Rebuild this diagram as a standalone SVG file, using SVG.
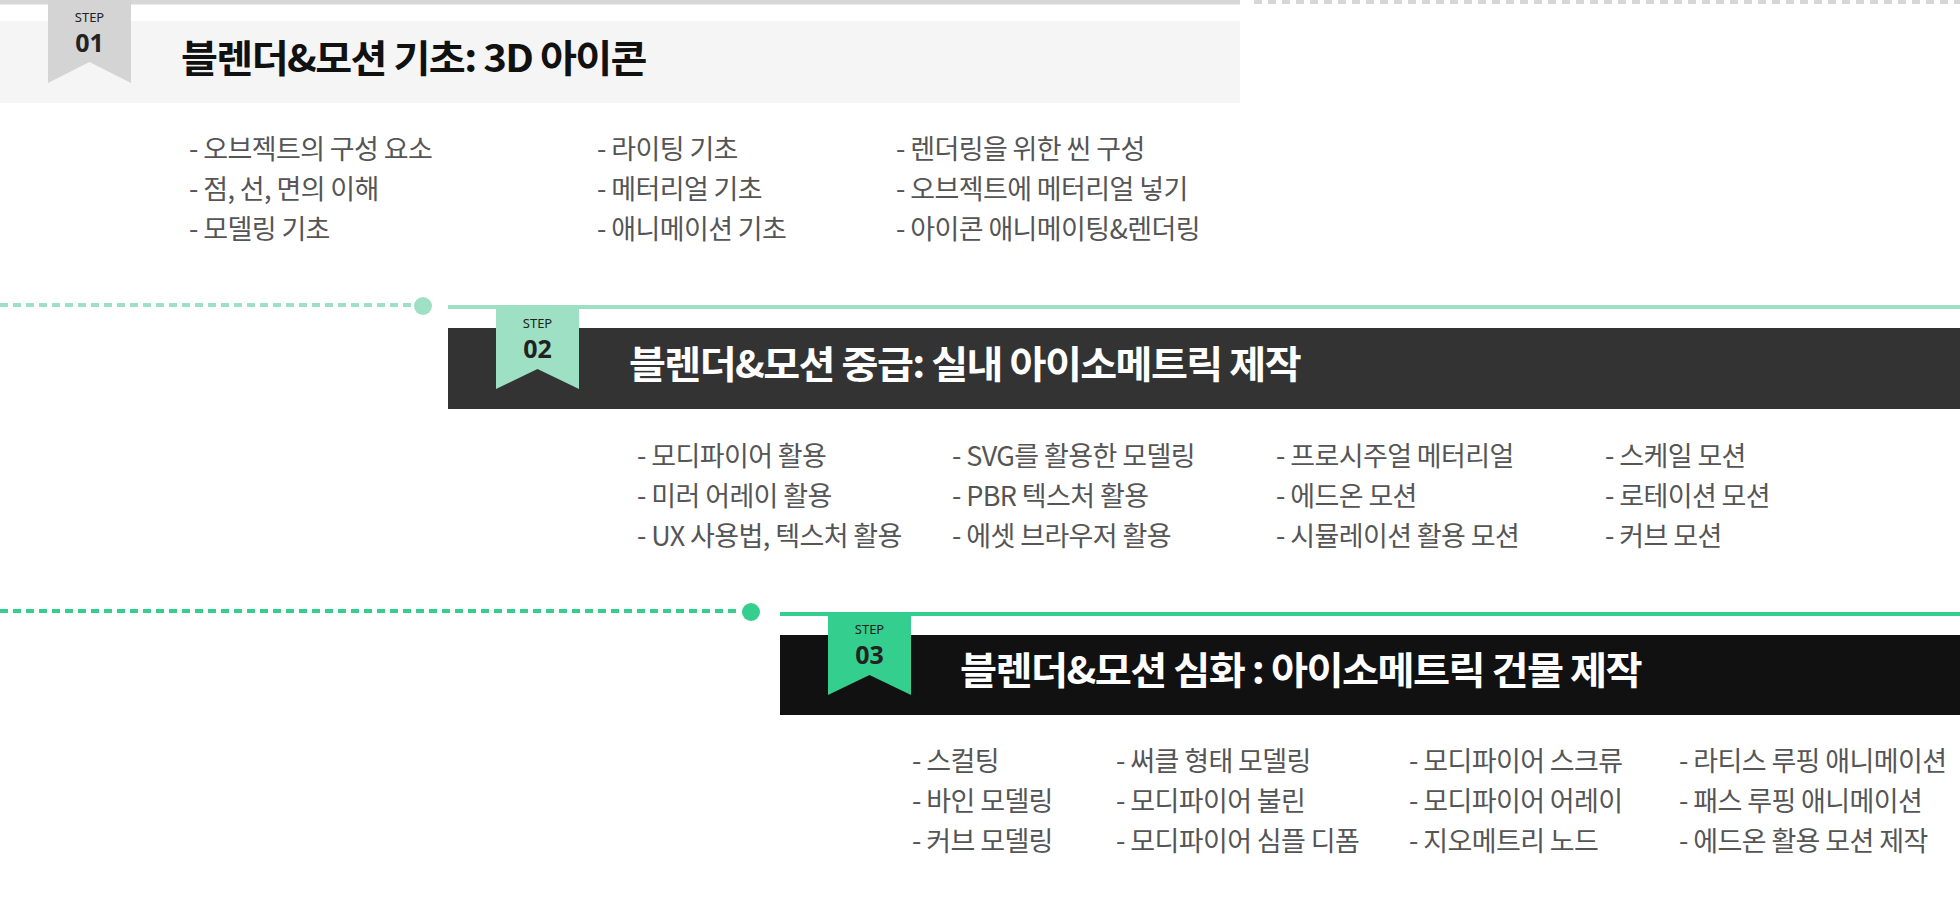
<svg xmlns="http://www.w3.org/2000/svg" width="1960" height="904" viewBox="0 0 1960 904">
<style>
.t{font-family:"Noto Sans CJK KR","Noto Sans",sans-serif;font-weight:bold;font-size:38px;letter-spacing:-1.5px}
.i{font-family:"Noto Sans CJK KR","Noto Sans",sans-serif;font-size:27px;fill:#555;letter-spacing:-0.6px}
.s{font-family:"Noto Sans","Noto Sans CJK KR",sans-serif;font-size:13px;text-anchor:middle;fill:#222}
.n{font-family:"Noto Sans","Noto Sans CJK KR",sans-serif;font-size:25px;font-weight:bold;text-anchor:middle;fill:#222}
</style>
<rect width="1960" height="904" fill="#fff"/>
<g id="connectors">
<line x1="0" y1="2" x2="1240" y2="2" stroke="#d6d6d6" stroke-width="5"/>
<line x1="1254" y1="2" x2="1960" y2="2" stroke="#d6d6d6" stroke-width="4" stroke-dasharray="8,6"/>
<line x1="0" y1="305" x2="412" y2="305" stroke="#9ee0c3" stroke-width="4" stroke-dasharray="8,5"/>
<circle cx="423" cy="306" r="9" fill="#9ee0c3"/>
<line x1="448" y1="307" x2="1960" y2="307" stroke="#9ee0c3" stroke-width="4"/>
<line x1="0" y1="611" x2="740" y2="611" stroke="#34cf8e" stroke-width="4" stroke-dasharray="8,5"/>
<circle cx="751" cy="612" r="9" fill="#34cf8e"/>
<line x1="780" y1="614" x2="1960" y2="614" stroke="#34cf8e" stroke-width="4"/>
</g>
<g id="step01">
<rect x="0" y="21" width="1240" height="82" fill="#f5f5f5"/>
<polygon points="48,0 131,0 131,83 89.5,62 48,83" fill="#d4d4d4"/>
<text class="s" x="89.5" y="22">STEP</text>
<text class="n" x="89.5" y="52">01</text>
<text class="t" x="181" y="72" fill="#111" textLength="465" lengthAdjust="spacingAndGlyphs">블렌더&amp;모션 기초: 3D 아이콘</text>
<text class="i" x="189" y="159">- 오브젝트의 구성 요소</text>
<text class="i" x="189" y="199">- 점, 선, 면의 이해</text>
<text class="i" x="189" y="239">- 모델링 기초</text>
<text class="i" x="597" y="159">- 라이팅 기초</text>
<text class="i" x="597" y="199">- 메터리얼 기초</text>
<text class="i" x="597" y="239">- 애니메이션 기초</text>
<text class="i" x="896" y="159">- 렌더링을 위한 씬 구성</text>
<text class="i" x="896" y="199">- 오브젝트에 메터리얼 넣기</text>
<text class="i" x="896" y="239">- 아이콘 애니메이팅&amp;렌더링</text>
</g>
<g id="step02">
<rect x="448" y="328" width="1512" height="81" fill="#333"/>
<polygon points="496,306 579,306 579,389 537.5,369 496,389" fill="#9ee0c3"/>
<text class="s" x="537.5" y="328">STEP</text>
<text class="n" x="537.5" y="358">02</text>
<text class="t" x="629" y="378" fill="#fff" textLength="671" lengthAdjust="spacingAndGlyphs">블렌더&amp;모션 중급: 실내 아이소메트릭 제작</text>
<text class="i" x="637" y="466">- 모디파이어 활용</text>
<text class="i" x="637" y="506">- 미러 어레이 활용</text>
<text class="i" x="637" y="546">- UX 사용법, 텍스처 활용</text>
<text class="i" x="952" y="466">- SVG를 활용한 모델링</text>
<text class="i" x="952" y="506">- PBR 텍스처 활용</text>
<text class="i" x="952" y="546">- 에셋 브라우저 활용</text>
<text class="i" x="1276" y="466">- 프로시주얼 메터리얼</text>
<text class="i" x="1276" y="506">- 에드온 모션</text>
<text class="i" x="1276" y="546">- 시뮬레이션 활용 모션</text>
<text class="i" x="1605" y="466">- 스케일 모션</text>
<text class="i" x="1605" y="506">- 로테이션 모션</text>
<text class="i" x="1605" y="546">- 커브 모션</text>
</g>
<g id="step03">
<rect x="780" y="635" width="1180" height="80" fill="#111"/>
<polygon points="828,614 911,614 911,695 869.5,675 828,695" fill="#34cf8e"/>
<text class="s" x="869.5" y="634">STEP</text>
<text class="n" x="869.5" y="664">03</text>
<text class="t" x="960" y="684" fill="#fff" textLength="681" lengthAdjust="spacingAndGlyphs">블렌더&amp;모션 심화 : 아이소메트릭 건물 제작</text>
<text class="i" x="912" y="771">- 스컬팅</text>
<text class="i" x="912" y="811">- 바인 모델링</text>
<text class="i" x="912" y="851">- 커브 모델링</text>
<text class="i" x="1116" y="771">- 써클 형태 모델링</text>
<text class="i" x="1116" y="811">- 모디파이어 불린</text>
<text class="i" x="1116" y="851">- 모디파이어 심플 디폼</text>
<text class="i" x="1409" y="771">- 모디파이어 스크류</text>
<text class="i" x="1409" y="811">- 모디파이어 어레이</text>
<text class="i" x="1409" y="851">- 지오메트리 노드</text>
<text class="i" x="1679" y="771">- 라티스 루핑 애니메이션</text>
<text class="i" x="1679" y="811">- 패스 루핑 애니메이션</text>
<text class="i" x="1679" y="851">- 에드온 활용 모션 제작</text>
</g>
</svg>
